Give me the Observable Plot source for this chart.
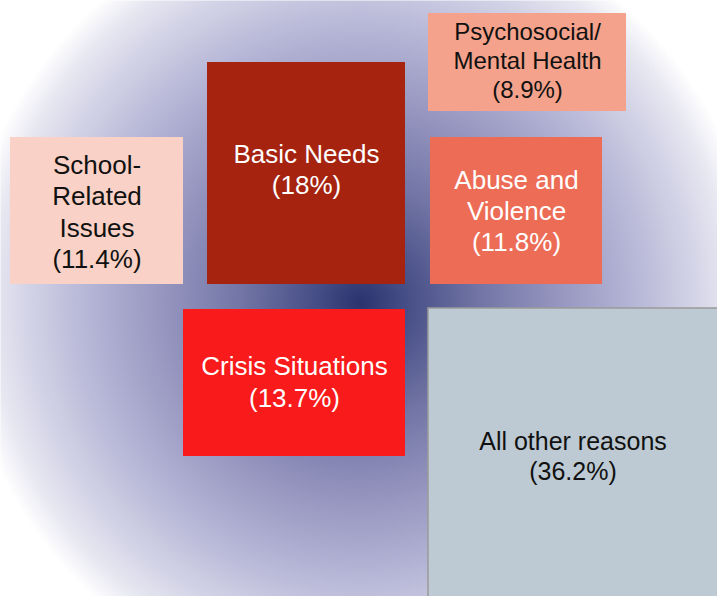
<!DOCTYPE html>
<html>
<head>
<meta charset="utf-8">
<script src="https://cdn.jsdelivr.net/npm/d3@7"></script>
<script src="https://cdn.jsdelivr.net/npm/@observablehq/plot@0.6"></script>
<style>
  html, body { margin: 0; padding: 0; background: #ffffff; }
  #chart svg { display: block; }
</style>
</head>
<body>
<div id="chart"></div>
<script>
// Categories and their share of reasons (%)
const categories = [
  "Psychosocial/\nMental Health",
  "Basic Needs",
  "School-\nRelated\nIssues",
  "Abuse and\nViolence",
  "Crisis Situations",
  "All other reasons"
];
const shares = [8.9, 18, 11.4, 11.8, 13.7, 36.2];

// Box fills and label colours
const fills = ["#F4A28B", "#A5230F", "#F9D1C6", "#ED6C56", "#F91A1B", "#BDCAD3"];
const labelColors = ["#111111", "#ffffff", "#111111", "#ffffff", "#ffffff", "#111111"];
const labelSizes = [24, 26, 26, 26, 26, 25];

// Layout of the boxes (layout units, same extent as the canvas)
const boxLeft   = [428, 207, 10, 430, 183, 428];
const boxRight  = [626, 405, 183, 602, 405, 720];
const boxTop    = [13, 62, 137, 137, 309, 308];
const boxBottom = [111, 284, 284, 284, 456, 640];
const labelShift = [-3, -5, 0, -1, -2, 3];

const W = 717, H = 596;

const boxes = categories.map((c, i) => ({
  category: c,
  share: shares[i],
  label: `${c}\n(${shares[i]}%)`,
  fill: fills[i],
  color: labelColors[i],
  size: labelSizes[i],
  x1: boxLeft[i], x2: boxRight[i], y1: boxTop[i], y2: boxBottom[i],
  cx: (boxLeft[i] + Math.min(boxRight[i], W)) / 2,
  cy: (boxTop[i] + Math.min(boxBottom[i], H)) / 2 + labelShift[i]
}));

const plot = Plot.plot({
  width: W,
  height: H,
  margin: 0,
  x: {domain: [0, W], range: [0, W], axis: null},
  y: {domain: [0, H], range: [0, H], axis: null},
  style: {fontFamily: "'Liberation Sans', Arial, sans-serif", background: "transparent"},
  marks: [
    Plot.frame({fill: "url(#bgGrad)", stroke: "none"}),
    Plot.rect(boxes, {
      x1: "x1", x2: "x2", y1: "y1", y2: "y2",
      fill: d => d.fill,
      stroke: d => d.category === "All other reasons" ? "#9a9a9a" : "none",
      strokeWidth: 1.5,
      clip: true
    }),
    Plot.text(boxes, {
      x: "cx", y: "cy",
      text: "label",
      fill: d => d.color,
      fontSize: d => d.size,
      lineHeight: 1.2,
      textAnchor: "middle"
    })
  ]
});

// radial background gradient
const svg = d3.select(plot);
const defs = svg.insert("defs", ":first-child");
const g = defs.append("radialGradient")
  .attr("id", "bgGrad")
  .attr("gradientUnits", "userSpaceOnUse")
  .attr("cx", 360).attr("cy", 302).attr("r", 398);
[
  [0, "#2B336E"],
  [0.1, "#434B84"],
  [0.3, "#7275A5"],
  [0.5, "#9696C0"],
  [0.7, "#B8B8D8"],
  [0.85, "#D6D6E8"],
  [0.93, "#E8E8F2"],
  [1, "#FFFFFF"]
].forEach(([o, c]) => g.append("stop").attr("offset", o).attr("stop-color", c));

document.getElementById("chart").appendChild(plot);
</script>
</body>
</html>
